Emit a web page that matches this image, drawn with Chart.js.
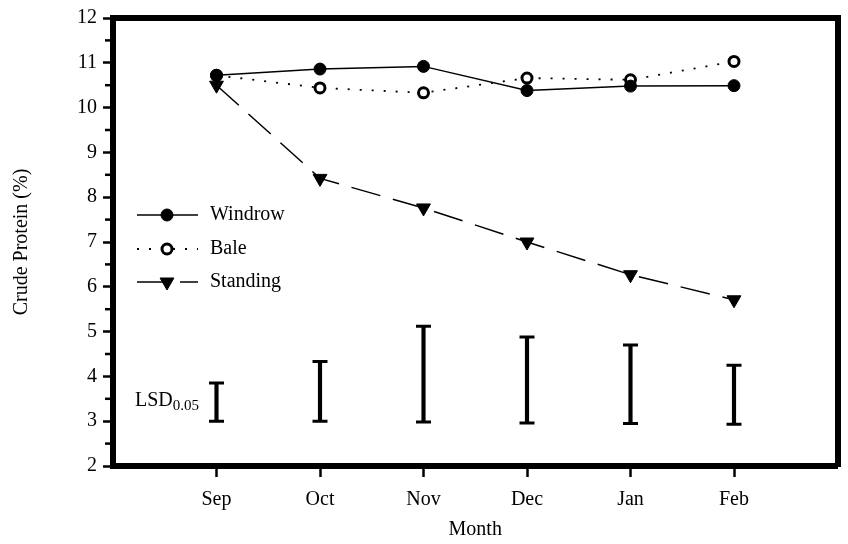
<!DOCTYPE html>
<html><head><meta charset="utf-8">
<script src="https://cdn.jsdelivr.net/npm/chart.js@4"></script>
<style>html,body{margin:0;padding:0;background:#fff}</style>
</head><body>
<canvas id="c" width="848" height="544"></canvas>
<script>
const months = ['Sep','Oct','Nov','Dec','Jan','Feb'];
const windrow = [10.72, 10.86, 10.92, 10.38, 10.48, 10.49];
const bale = [10.72, 10.44, 10.33, 10.66, 10.62, 11.03];
const standing = [10.50, 8.42, 7.76, 7.00, 6.27, 5.71];
const lsdLow = [3.00, 3.00, 2.98, 2.96, 2.95, 2.93];
const lsdHigh = [3.85, 4.33, 5.12, 4.88, 4.70, 4.25];
const yMajor = [2,3,4,5,6,7,8,9,10,11,12];
const yMinor = [2.5,3.5,4.5,5.5,6.5,7.5,8.5,9.5,10.5,11.5];
const legendNames = ['Windrow','Bale','Standing'];

const FONT = "'Liberation Serif','Times New Roman',serif";
Chart.defaults.font.family = FONT;
Chart.defaults.font.size = 20;
Chart.defaults.color = '#000';

const pts = arr => arr.map((v,i)=>({x:i,y:v}));

const minorTicks = {
  id:'minorTicks',
  afterDraw(chart){
    const ys = chart.scales.y, ctx = chart.ctx;
    ctx.save(); ctx.strokeStyle='#000'; ctx.lineWidth=2.5;
    yMinor.forEach(v=>{
      const p = ys.getPixelForValue(v);
      ctx.beginPath(); ctx.moveTo(ys.right-3, p); ctx.lineTo(ys.right-8, p); ctx.stroke();
    });
    ctx.restore();
  }
};

const legendPlugin = {
  id:'lg',
  afterDatasetsDraw(chart){
    const ctx = chart.ctx, rows=[215,249,282];
    legendNames.forEach((name,k)=>{
      const ds = chart.data.datasets[k], y = rows[k];
      ctx.save();
      ctx.strokeStyle='#000'; ctx.lineWidth=ds.borderWidth;
      ctx.setLineDash(ds.borderDash||[]);
      ctx.beginPath(); ctx.moveTo(137,y); ctx.lineTo(198,y); ctx.stroke();
      ctx.setLineDash([]);
      ctx.fillStyle=ds.pointBackgroundColor; ctx.strokeStyle=ds.pointBorderColor; ctx.lineWidth=ds.pointBorderWidth;
      Chart.helpers.drawPoint(ctx,{pointStyle:ds.pointStyle,rotation:ds.pointRotation||0,radius:ds.pointRadius,borderWidth:ds.pointBorderWidth},167,y);
      ctx.fillStyle='#000'; ctx.font='20px '+FONT; ctx.textBaseline='middle'; ctx.textAlign='left';
      ctx.fillText(name,210,y);
      ctx.restore();
    });
  }
};

const lsdLabel = {
  id:'lsd',
  afterDatasetsDraw(chart){
    const ctx=chart.ctx, ys=chart.scales.y;
    const y = ys.getPixelForValue(3.33);
    ctx.save(); ctx.fillStyle='#000'; ctx.textBaseline='alphabetic'; ctx.textAlign='left';
    ctx.font='20px '+FONT; ctx.fillText('LSD',135,y);
    const w = ctx.measureText('LSD').width;
    ctx.font='15px '+FONT; ctx.fillText('0.05',135+w,y+4);
    ctx.restore();
  }
};

new Chart(document.getElementById('c'), {
  type:'line',
  data:{
    datasets:[
      {label:'Windrow', data:pts(windrow), borderColor:'#000', borderWidth:1.5, borderDash:[],
       pointStyle:'circle', pointRadius:6, pointBackgroundColor:'#000', pointBorderColor:'#000', pointBorderWidth:1, tension:0},
      {label:'Bale', data:pts(bale), borderColor:'#000', borderWidth:1.8, borderDash:[2,10],
       pointStyle:'circle', pointRadius:5, pointBackgroundColor:'#fff', pointBorderColor:'#000', pointBorderWidth:3, tension:0},
      {label:'Standing', data:pts(standing), borderColor:'#000', borderWidth:1.5, borderDash:[30,13],
       pointStyle:'triangle', pointRotation:180, pointRadius:8, pointBackgroundColor:'#000', pointBorderColor:'#000', pointBorderWidth:1, tension:0},
      {type:'bar', label:'LSD', data:lsdLow.map((lo,i)=>({x:i,y:[lo,lsdHigh[i]]})), backgroundColor:'#000', barThickness:3.5},
      {label:'LSD caps', data:[...pts(lsdLow),...pts(lsdHigh)], showLine:false, pointStyle:'line', pointRadius:7.5, pointBorderWidth:3, pointBorderColor:'#000', pointBackgroundColor:'#000'}
    ]
  },
  options:{
    responsive:false, animation:false, events:[],
    layout:{padding:0},
    plugins:{legend:{display:false}, tooltip:{enabled:false}},
    scales:{
      x:{type:'linear', position:'bottom', min:-1, max:6, offset:false,
        afterBuildTicks:s=>{s.ticks = months.map((m,i)=>({value:i}));},
        afterFit:s=>{s.height=78;},
        ticks:{callback:(v)=>months[v], padding:11, maxRotation:0, autoSkip:false, font:{size:20}},
        grid:{offset:false, drawOnChartArea:false, drawTicks:true, tickLength:11, tickWidth:2.5, tickColor:'#000'},
        border:{display:true, width:6, color:'#000'},
        title:{display:true, text:'Month', font:{size:20}, padding:{top:0,bottom:2}}
      },
      x2:{type:'linear', position:'top', min:-1, max:6, offset:false,
        afterFit:s=>{s.height=17;},
        ticks:{display:false}, grid:{offset:false, drawOnChartArea:false, drawTicks:false},
        border:{display:true, width:6, color:'#000'}
      },
      y:{type:'linear', position:'left', min:2, max:12,
        afterBuildTicks:s=>{s.ticks = yMajor.map(v=>({value:v}));},
        afterFit:s=>{s.width=113;},
        ticks:{padding:6, font:{size:20}},
        grid:{drawOnChartArea:false, drawTicks:true, tickLength:10, tickWidth:2.5, tickColor:'#000'},
        border:{display:true, width:6, color:'#000'},
        title:{display:true, text:'Crude Protein (%)', font:{size:20}, padding:{top:10,bottom:0}}
      },
      y2:{type:'linear', position:'right', min:2, max:12,
        afterFit:s=>{s.width=3;},
        ticks:{display:false}, grid:{drawOnChartArea:false, drawTicks:false},
        border:{display:true, width:6, color:'#000'}
      }
    }
  },
  plugins:[minorTicks, legendPlugin, lsdLabel]
});
</script>
</body></html>
